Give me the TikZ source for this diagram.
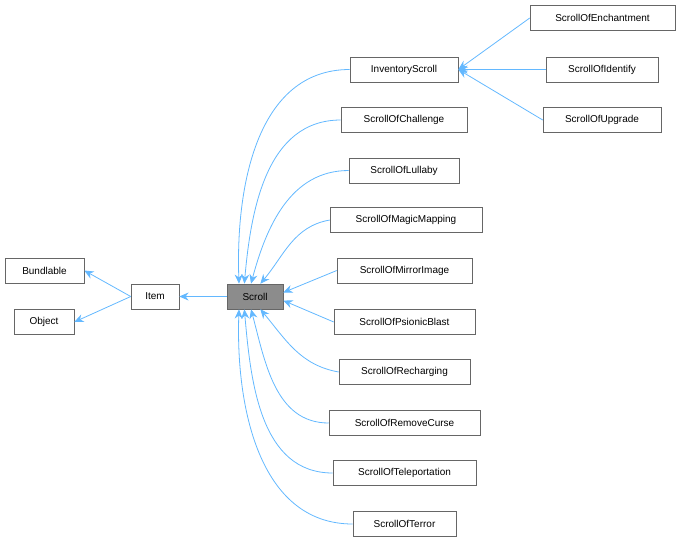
\documentclass[tikz,border=0pt]{standalone}
\usepackage{fontspec}
\setmainfont{Liberation Sans}
\usetikzlibrary{arrows.meta}
\begin{document}
\begin{tikzpicture}[x=0.75pt,y=-0.75pt,
  box/.style={draw=black!60,fill=white,minimum height=18.75pt,inner sep=0pt,font=\fontsize{7.5}{9}\selectfont,text=black},
  w/.style={minimum width=#1*0.75pt},
  inh/.style={draw={rgb,255:red,99;green,184;blue,255},line width=0.6pt,-{Stealth[length=7pt,width=6pt,fill={rgb,255:red,99;green,184;blue,255}]}}]
\useasboundingbox (0,0) rectangle (680,544);
\node[box,w=79] (bund) at (44.5,270.5) {Bundlable};
\node[box,w=60] (obj) at (44,322) {Object};
\node[box,w=48] (item) at (155,296.5) {Item};
\node[box,w=56,fill=black!45] (scroll) at (255,296.5) {Scroll};
\node[box,w=108] (inv) at (404,69.5) {InventoryScroll};
\node[box,w=126] (chal) at (404,120) {ScrollOfChallenge};
\node[box,w=110] (lull) at (404,170.5) {ScrollOfLullaby};
\node[box,w=152] (magic) at (406,220) {ScrollOfMagicMapping};
\node[box,w=135] (mirror) at (404.5,270.5) {ScrollOfMirrorImage};
\node[box,w=141] (psi) at (404.5,322) {ScrollOfPsionicBlast};
\node[box,w=131] (rech) at (404.5,372) {ScrollOfRecharging};
\node[box,w=151] (rem) at (404.5,423) {ScrollOfRemoveCurse};
\node[box,w=143] (tele) at (404.5,473) {ScrollOfTeleportation};
\node[box,w=103] (terr) at (404.5,524) {ScrollOfTerror};
\node[box,w=145] (ench) at (602.5,18) {ScrollOfEnchantment};
\node[box,w=112] (ident) at (602,69.5) {ScrollOfIdentify};
\node[box,w=118] (upg) at (602,120) {ScrollOfUpgrade};

\draw[inh] (item.west) -- (bund.east);
\draw[inh] (item.west) -- (obj.east);
\draw[inh] (scroll.west) -- (item.east);
\draw[inh] (ench.west) -- (inv.east);
\draw[inh] (ident.west) -- (inv.east);
\draw[inh] (upg.west) -- (inv.east);
\draw[inh] (inv.west) to[out=180,in=92] ([xshift=-12pt]scroll.north);
\draw[inh] (chal.west) to[out=180,in=85] ([xshift=-8pt]scroll.north);
\draw[inh] (lull.west) to[out=180,in=75] ([xshift=-3pt]scroll.north);
\draw[inh] (magic.west) to[out=190,in=50] ([xshift=4pt]scroll.north);
\draw[inh] (mirror.west) -- ([yshift=3pt]scroll.east);
\draw[inh] (psi.west) -- ([yshift=-3pt]scroll.east);
\draw[inh] (rech.west) to[out=170,in=-50] ([xshift=4pt]scroll.south);
\draw[inh] (rem.west) to[out=180,in=-75] ([xshift=-3pt]scroll.south);
\draw[inh] (tele.west) to[out=180,in=-85] ([xshift=-8pt]scroll.south);
\draw[inh] (terr.west) to[out=180,in=-92] ([xshift=-12pt]scroll.south);
\end{tikzpicture}
\end{document}
